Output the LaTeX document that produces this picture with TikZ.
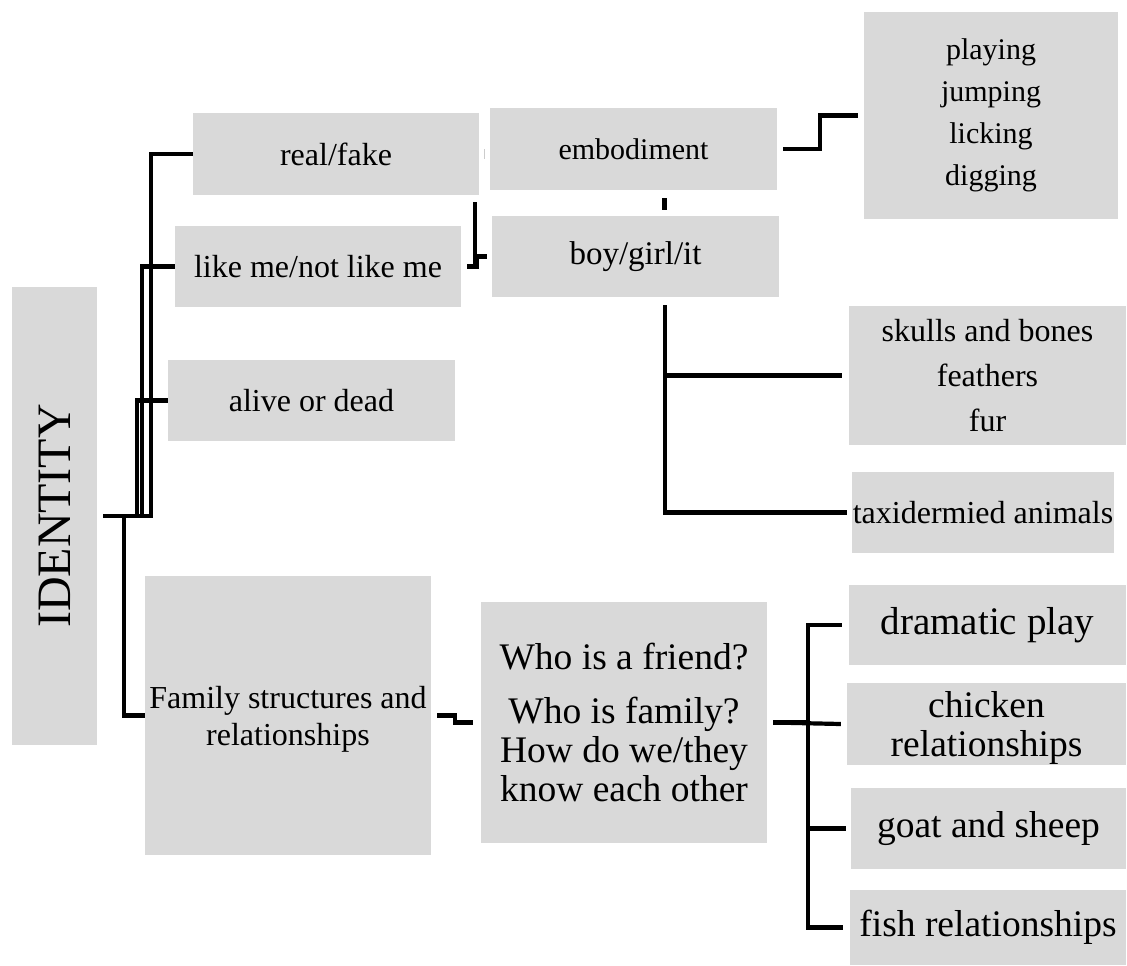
\documentclass[tikz,border=0pt]{standalone}
\usepackage{fontspec}
\setmainfont{Liberation Serif}
\usepackage{tikz}
\usetikzlibrary{positioning,calc}

\begin{document}
\begin{tikzpicture}[
    x=1pt, y=-1pt,
    box/.style={fill=black!15, inner sep=0pt, align=center, font={\fontsize{32}{43}\selectfont}},
    bigbox/.style={box, font={\fontsize{37.5}{44}\selectfont}},
    link/.style={line width=4.2pt}
]
\useasboundingbox (0,0) rectangle (1127,966);

% Identity
\node[box, minimum width=85, minimum height=458, font={\fontsize{48}{50}\selectfont}] (identity) at (54.5,516) {\rotatebox{90}{IDENTITY}};

% First column
\node[box, minimum width=286, minimum height=82] (realfake) at (336,154) {real/fake};
\node[box, minimum width=286, minimum height=81] (likeme) at (318,266.5) {like me/not like me};
\node[box, minimum width=287, minimum height=81] (alive) at (311.5,400.5) {alive or dead};
\node[box, minimum width=286, minimum height=279, text depth=-8pt] (family) at (288,715.5) {Family structures and\\[-6pt]relationships};

% Second column
\node[box, minimum width=287, minimum height=82, font={\fontsize{30}{40}\selectfont}] (embodiment) at (633.5,149) {embodiment};
\node[box, minimum width=287, minimum height=81, font={\fontsize{33}{40}\selectfont}] (boygirl) at (635.5,256.5) {boy/girl/it};
\node[bigbox, minimum width=286, minimum height=241, text depth=-6pt] (who) at (624,722.5) {Who is a friend?\\[10pt]Who is family?\\[-5pt]How do we/they\\[-5pt]know each other};

% Third column
\node[box, minimum width=254, minimum height=207, font={\fontsize{30}{42}\selectfont}] (actions) at (991,115.5) {playing\\jumping\\licking\\digging};
\node[box, minimum width=277, minimum height=139, font={\fontsize{32}{45}\selectfont}] (skulls) at (987.5,375.5) {skulls and bones\\feathers\\fur};
\node[box, minimum width=262, minimum height=81] (taxi) at (983,512.5) {taxidermied animals};
\node[bigbox, minimum width=277, minimum height=80, font={\fontsize{39}{44}\selectfont}] (dramatic) at (987.5,625) {dramatic play};
\node[bigbox, minimum width=279, minimum height=82, font={\fontsize{37.5}{39}\selectfont}, text depth=-5pt] (chicken) at (986.5,724) {chicken\\relationships};
\node[bigbox, minimum width=275, minimum height=81] (goat) at (988.5,828.5) {goat and sheep};
\node[bigbox, minimum width=276, minimum height=75] (fish) at (988,927.5) {fish relationships};

% Identity branches
\coordinate (idout) at ($(identity.east)+(6,0)$);
\draw[link] (idout) -- ++(48,0) |- (realfake.west);
\draw[link] (idout) -- ++(39,0) |- (likeme.west);
\draw[link] (idout) -- ++(34,0) |- (alive.west);
\draw[link] (idout) -- ++(21,0) |- (family.west);

% Middle links
\draw[gray!40, line width=1pt] (realfake.east) ++(5,-5) -- ++(0,10);
\draw[link] (realfake.south east) ++(-4,7) -- ++(0,62);
\draw[link] (likeme.east) ++(6,0) -- ++(10,0) |- ([xshift=-5pt]boygirl.west);
\draw[link] (embodiment.south) ++(31,8) -- ++(0,12);
\draw[link] (embodiment.east) ++(6,0) -- ++(37,0) |- ([xshift=-6pt]actions.west);

% Boy/girl/it branches
\coordinate (bgout) at ($(boygirl.south)+(29.5,8)$);
\draw[link] (bgout) |- ([xshift=-7pt]skulls.west);
\draw[link] (bgout) |- ([xshift=-5pt]taxi.west);

% Family branches
\draw[link] (family.east) ++(6,0) -- ++(18,0) |- ([xshift=-8pt]who.west);
\coordinate (wout) at ($(who.east)+(6,0)$);
\draw[link] (wout) -- ++(35,0) |- ([xshift=-7pt]dramatic.west);
\draw[link] (wout) -- ([xshift=-6pt]chicken.west);
\draw[link] (wout) -- ++(35,0) |- ([xshift=-5pt]goat.west);
\draw[link] (wout) -- ++(35,0) |- ([xshift=-7pt]fish.west);

\end{tikzpicture}
\end{document}
